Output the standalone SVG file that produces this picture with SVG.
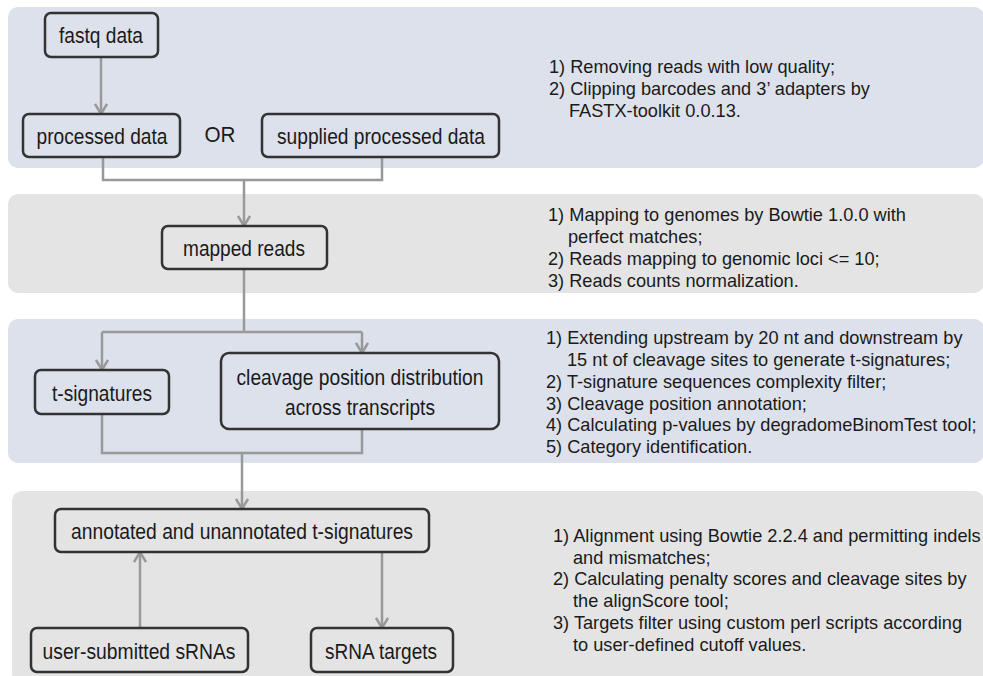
<svg xmlns="http://www.w3.org/2000/svg" width="983" height="676" viewBox="0 0 983 676">
<defs>
<style>
.pb{fill:#dde1eb}
.pg{fill:#e4e4e4}
.node rect{fill:none;stroke:#333;stroke-width:2.5}
.nt{font-family:"Liberation Sans",Arial,sans-serif;font-size:22px;fill:#1a1a1a;text-anchor:middle}
.dt{font-family:"Liberation Sans",Arial,sans-serif;font-size:18.2px;fill:#1a1a1a}
.conn path{fill:none;stroke:#999;stroke-width:2.5}
</style>
<marker id="arr" markerUnits="userSpaceOnUse" viewBox="0 0 12 14" refX="11" refY="7" markerWidth="12" markerHeight="14" orient="auto">
<path d="M1,1 L11,7 L1,13" fill="none" stroke="#999" stroke-width="2.5"/>
</marker>
</defs>
<rect width="983" height="676" fill="#fff"/>
<g id="panels">
<rect class="pb" x="8" y="7" width="976" height="161" rx="10"/>
<rect class="pg" x="8" y="194" width="976" height="99" rx="10"/>
<rect class="pb" x="8" y="319" width="976" height="144" rx="10"/>
<rect class="pg" x="12" y="491" width="972" height="192" rx="10"/>
</g>
<g class="conn" id="connectors">
<path d="M101,57 V114" marker-end="url(#arr)"/>
<path d="M103,157 V180 H382 V157"/>
<path d="M244,180 V226" marker-end="url(#arr)"/>
<path d="M244,269 V332"/>
<path d="M102,332 H362"/>
<path d="M102,332 V370" marker-end="url(#arr)"/>
<path d="M362,332 V353" marker-end="url(#arr)"/>
<path d="M102,414 V453 H362 V429"/>
<path d="M242,453 V509" marker-end="url(#arr)"/>
<path d="M140,628 V552" marker-end="url(#arr)"/>
<path d="M382,552 V628" marker-end="url(#arr)"/>
</g>
<g id="n-fastq" class="node"><rect x="45" y="13" width="113" height="44" rx="6"/><text class="nt" x="101" y="43" textLength="84" lengthAdjust="spacingAndGlyphs">fastq data</text></g>
<g id="n-processed" class="node"><rect x="23" y="114" width="157" height="43" rx="6"/><text class="nt" x="102" y="144" textLength="131" lengthAdjust="spacingAndGlyphs">processed data</text></g>
<g id="t-or"><text class="nt" x="220" y="142" textLength="31" lengthAdjust="spacingAndGlyphs">OR</text></g>
<g id="n-supplied" class="node"><rect x="262" y="114" width="237" height="43" rx="6"/><text class="nt" x="381" y="144" textLength="208" lengthAdjust="spacingAndGlyphs">supplied processed data</text></g>
<g id="n-mapped" class="node"><rect x="162" y="226" width="165" height="43" rx="6"/><text class="nt" x="244" y="256" textLength="122" lengthAdjust="spacingAndGlyphs">mapped reads</text></g>
<g id="n-tsig" class="node"><rect x="35" y="370" width="134" height="44" rx="6"/><text class="nt" x="102" y="401" textLength="100" lengthAdjust="spacingAndGlyphs">t-signatures</text></g>
<g id="n-cleavage" class="node"><rect x="221" y="353" width="278" height="76" rx="8"/><text class="nt" x="360" y="385" textLength="247" lengthAdjust="spacingAndGlyphs">cleavage position distribution</text><text class="nt" x="360" y="415" textLength="150" lengthAdjust="spacingAndGlyphs">across transcripts</text></g>
<g id="n-annot" class="node"><rect x="55" y="509" width="374" height="43" rx="6"/><text class="nt" x="242" y="539" textLength="342" lengthAdjust="spacingAndGlyphs">annotated and unannotated t-signatures</text></g>
<g id="n-user" class="node"><rect x="31" y="628" width="217" height="44" rx="6"/><text class="nt" x="139" y="659" textLength="193" lengthAdjust="spacingAndGlyphs">user-submitted sRNAs</text></g>
<g id="n-targets" class="node"><rect x="311" y="628" width="142" height="44" rx="6"/><text class="nt" x="381" y="659" textLength="112" lengthAdjust="spacingAndGlyphs">sRNA targets</text></g>
<g id="desc1" class="dt">
<text x="549" y="73">1) Removing reads with low quality;</text>
<text x="549" y="95">2) Clipping barcodes and 3’ adapters  by</text>
<text x="569" y="117">FASTX-toolkit 0.0.13.</text>
</g>
<g id="desc2" class="dt">
<text x="548" y="221">1) Mapping to genomes by Bowtie 1.0.0 with</text>
<text x="568" y="243">perfect matches;</text>
<text x="548" y="265">2) Reads mapping to genomic loci &lt;= 10;</text>
<text x="548" y="287">3) Reads counts normalization.</text>
</g>
<g id="desc3" class="dt">
<text x="546" y="344">1) Extending upstream by 20 nt and downstream by</text>
<text x="567" y="366">15 nt of cleavage sites to generate t-signatures;</text>
<text x="546" y="388">2) T-signature sequences complexity filter;</text>
<text x="546" y="410">3) Cleavage position annotation;</text>
<text x="546" y="431">4) Calculating p-values by degradomeBinomTest tool;</text>
<text x="546" y="453">5) Category identification.</text>
</g>
<g id="desc4" class="dt">
<text x="553" y="542">1) Alignment using Bowtie 2.2.4 and permitting indels</text>
<text x="573" y="564">and mismatches;</text>
<text x="553" y="585">2) Calculating penalty scores and cleavage sites by</text>
<text x="573" y="607">the alignScore tool;</text>
<text x="553" y="629">3) Targets filter using custom perl scripts according</text>
<text x="573" y="651">to user-defined cutoff values.</text>
</g>
</svg>
